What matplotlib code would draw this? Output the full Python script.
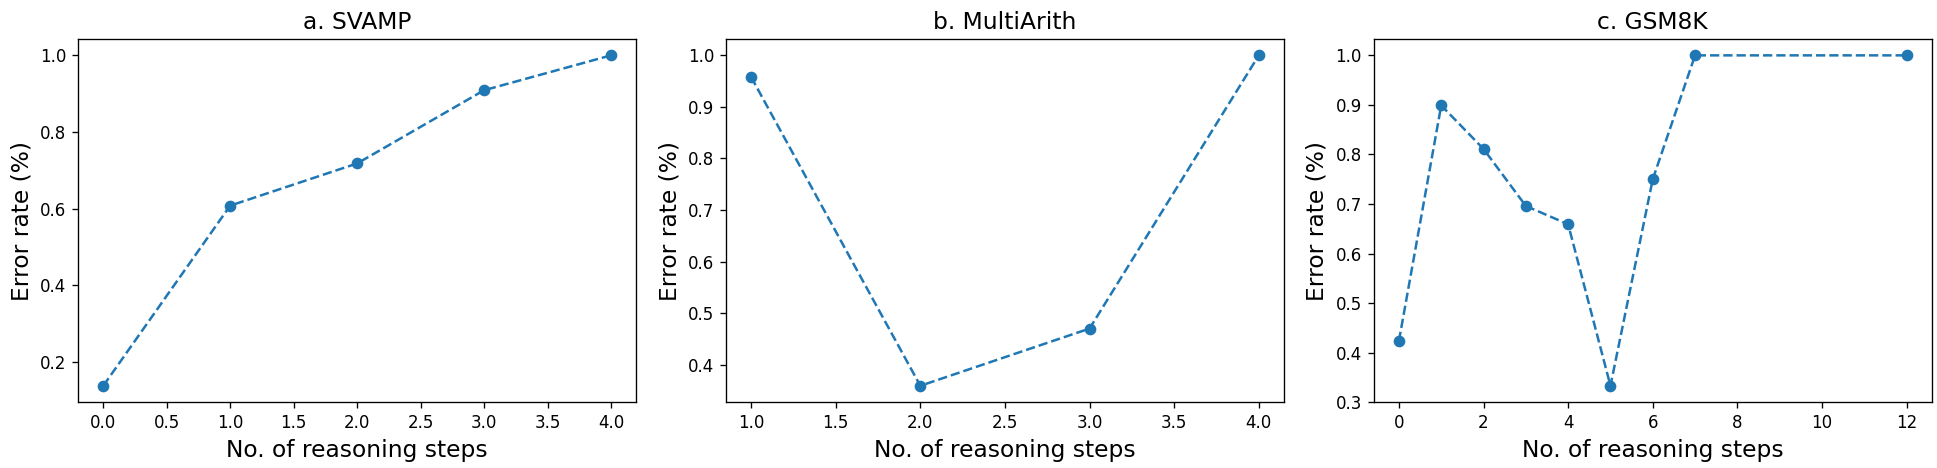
import matplotlib
matplotlib.use('Agg')
import matplotlib.pyplot as plt

# error rate per number of reasoning steps
svamp_steps = [0, 1, 2, 3, 4]
svamp_err = [0.138, 0.608, 0.718, 0.909, 1.0]

multiarith_steps = [1, 2, 3, 4]
multiarith_err = [0.958, 0.359, 0.470, 1.0]

gsm8k_steps = [0, 1, 2, 3, 4, 5, 6, 7, 12]
gsm8k_err = [0.4235, 0.899, 0.811, 0.696, 0.659, 0.333, 0.750, 1.0, 1.0]

titles = ['a. SVAMP', 'b. MultiArith', 'c. GSM8K']

fig, axes = plt.subplots(1, 3, figsize=(16.15, 3.9), dpi=120)
fig.subplots_adjust(left=0.0402, right=0.9969, top=0.917, bottom=0.1404, wspace=0.160)

data = [(svamp_steps, svamp_err), (multiarith_steps, multiarith_err), (gsm8k_steps, gsm8k_err)]
for ax, (x, y), t in zip(axes, data, titles):
    ax.plot(x, y, marker='o', linestyle='--')
    ax.set_title(t, fontsize=14)
    ax.set_xlabel('No. of reasoning steps', fontsize=14)
    ax.set_ylabel('Error rate (%)', fontsize=14)

plt.savefig('out.png', dpi=120)
